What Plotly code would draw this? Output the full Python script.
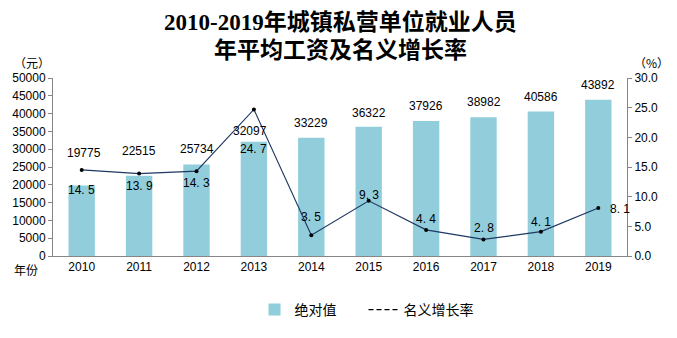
import plotly.graph_objects as go

years = ["2010", "2011", "2012", "2013", "2014", "2015", "2016", "2017", "2018", "2019"]
wages = [19775, 22515, 25734, 32097, 33229, 36322, 37926, 38982, 40586, 43892]
growth = [14.5, 13.9, 14.3, 24.7, 3.5, 9.3, 4.4, 2.8, 4.1, 8.1]
left_ticks = [0, 5000, 10000, 15000, 20000, 25000, 30000, 35000, 40000, 45000, 50000]
right_ticks = [0, 5, 10, 15, 20, 25, 30]

# label offsets (pixels) to mimic reference placement
wage_yshift = [33, 25, 15, 11, 15, 14, 15, 15, 15, 15]
wage_xshift = [2, 0, 0, -4, 0, 0, 0, 0, 0, 0]
growth_yshift = [-20, -12, -12, -40, 18, 6, 11, 11, 10, -1]
growth_xshift = [0, 0, 0, 0, 0, 0, 0, 0, 0, 22]

FONT = "Liberation Sans"
CJK = "Noto Sans CJK SC"
TITLE_FONT = "Liberation Serif, Noto Sans CJK SC"
BAR = "#92CDDC"
LINE = "#1F3864"
AXIS = "#868686"

L, R, T, B = 43, 50, 78, 77
W, H = 677, 338
pw, ph = W - L - R, H - T - B


def px(xp):
    return (xp - L) / pw


def py(yp):
    return (H - yp - B) / ph


NB = "\u00a0"

fig = go.Figure()
fig.add_trace(go.Bar(
    x=years, y=wages, name="绝对值" + NB * 7, marker=dict(color=BAR, line=dict(width=0)),
    width=0.46, yaxis="y", showlegend=True))
fig.add_trace(go.Scatter(
    x=years, y=growth, name="名义增长率", yaxis="y2", mode="lines+markers",
    line=dict(color=LINE, width=1.2), marker=dict(color="#000000", size=4),
    showlegend=False))
fig.add_trace(go.Scatter(
    x=[years[0]], y=[None], name="名义增长率", yaxis="y2", mode="lines",
    line=dict(color="#000000", width=1.3, dash="5px,3px"), showlegend=True))

annotations = []
for i, (yr, w) in enumerate(zip(years, wages)):
    annotations.append(dict(x=i, y=w, xref="x", yref="y", text=str(w), showarrow=False,
                            yshift=wage_yshift[i], xshift=wage_xshift[i], yanchor="middle",
                            font=dict(family=FONT, size=12, color="#000")))
for i, (yr, g) in enumerate(zip(years, growth)):
    annotations.append(dict(x=i, y=g, xref="x", yref="y2", text=f"{g:.1f}".replace(".", ". "),
                            showarrow=False, yshift=growth_yshift[i], xshift=growth_xshift[i],
                            yanchor="middle", font=dict(family=FONT, size=12, color="#000")))


def paper_text(x, y, text, font, size):
    return dict(x=px(x), y=py(y), xref="paper", yref="paper", text=text, showarrow=False,
                xanchor="center", yanchor="middle", font=dict(family=font, size=size, color="#000"))


annotations += [
    paper_text(22, 62, "（元）", CJK, 12),
    paper_text(652, 62, "（%）", CJK, 12),
    paper_text(16, 275, "年份", CJK, 12),
    paper_text(335, 20, "<b>2010-2019年城镇私营单位就业人员</b>", TITLE_FONT, 23),
    paper_text(335, 50, "<b>年平均工资及名义增长率</b>", TITLE_FONT, 23),
]

fig.update_layout(
    width=W, height=H,
    margin=dict(l=L, r=R, t=T, b=B),
    paper_bgcolor="white", plot_bgcolor="white",
    xaxis=dict(type="category", categoryorder="array", categoryarray=years,
               range=[-0.5, 9.5], showline=True, linecolor=AXIS, linewidth=1,
               ticks="", showgrid=False, tickfont=dict(family=FONT, size=12, color="#000")),
    yaxis=dict(range=[0, 50000], tickvals=left_ticks, tickformat="d", showline=True,
               linecolor=AXIS, ticks="outside", ticklen=4, tickcolor=AXIS, showgrid=False,
               zeroline=False, tickfont=dict(family=FONT, size=12, color="#000")),
    yaxis2=dict(range=[0, 30], tickvals=right_ticks, tickformat=".1f", overlaying="y",
                side="right", showline=True, linecolor=AXIS, ticks="outside", ticklen=4,
                tickcolor=AXIS, showgrid=False, zeroline=False,
                tickfont=dict(family=FONT, size=12, color="#000")),
    legend=dict(orientation="h", x=px(362), xanchor="center", y=py(300), yanchor="top",
                font=dict(family=CJK, size=14, color="#000")),
    annotations=annotations,
)
fig.write_html("out.html")
